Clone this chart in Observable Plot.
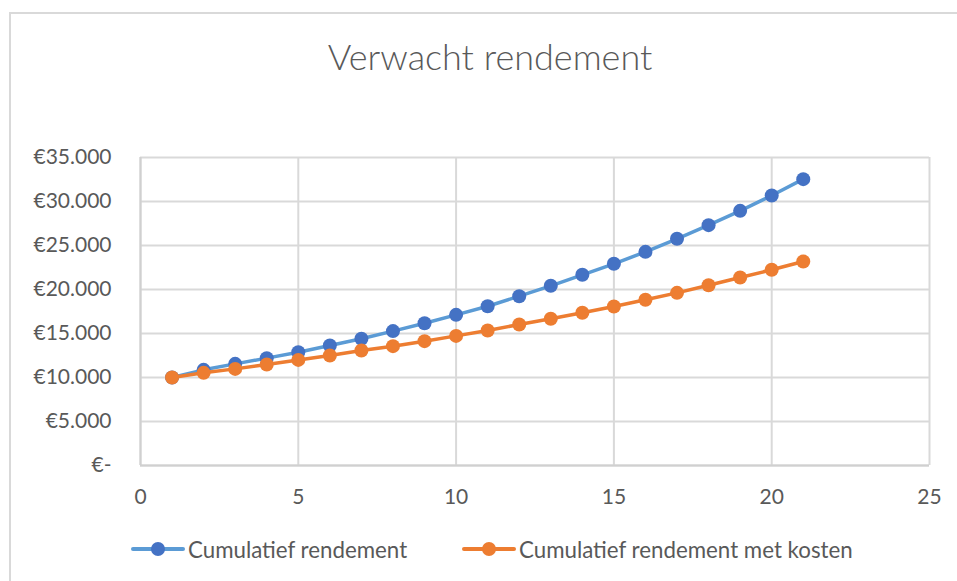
<!DOCTYPE html>
<html>
<head>
<meta charset="utf-8">
<script src="https://cdn.jsdelivr.net/npm/d3@7"></script>
<script src="https://cdn.jsdelivr.net/npm/@observablehq/plot@0.6"></script>
<style>
  html, body { margin: 0; padding: 0; background: #fff; }
  #wrap { position: relative; width: 957px; height: 581px; overflow: hidden; font-family: Lato, "Open Sans", sans-serif; color: #595959; }
  #border { position: absolute; left: 9px; top: 12px; width: 1000px; height: 1000px; border: 2px solid #d9d9d9; box-sizing: border-box; }
  #title { position: absolute; left: 0; width: 980px; top: 34px; text-align: center; font-size: 36px; font-weight: 300; color: #595959; white-space: nowrap; }
  #chart { position: absolute; left: 0; top: 0; }
  #legend { position: absolute; top: 536px; left: 0; width: 957px; height: 26px; font-size: 22.3px; color: #595959; }
  .item { position: absolute; top: 0; display: flex; align-items: center; height: 26px; white-space: nowrap; }
  .sw { position: relative; width: 54px; height: 26px; margin-right: 3px; }
  .sw .ln { position: absolute; left: 0; right: 0; top: 11px; height: 4px; border-radius: 2px; }
  .sw .dt { position: absolute; left: 20px; top: 6px; width: 14px; height: 14px; border-radius: 50%; }
</style>
</head>
<body>
<div id="wrap">
  <div id="border"></div>
  <div id="title">Verwacht rendement</div>
  <div id="chart"></div>
  <div id="legend"></div>
</div>
<script>
const years = [1,2,3,4,5,6,7,8,9,10,11,12,13,14,15,16,17,18,19,20,21];
const cumulatief = [10000,10870,11550,12200,12880,13640,14400,15270,16170,17120,18100,19240,20420,21670,22920,24280,25760,27310,28940,30680,32540];
const metKosten = [10000,10530,10980,11480,12000,12500,13070,13560,14130,14730,15340,16020,16670,17350,18070,18830,19620,20490,21360,22240,23180];
const seriesNames = ["Cumulatief rendement", "Cumulatief rendement met kosten"];
const lineColors = ["#5B9BD5", "#ED7D31"];
const dotColors = ["#4472C4", "#ED7D31"];
const xTicks = [0,5,10,15,20,25];
const yTicks = [0,5000,10000,15000,20000,25000,30000,35000];

const dataA = years.map((x,i)=>({x, y: cumulatief[i]}));
const dataB = years.map((x,i)=>({x, y: metKosten[i]}));

const fmtY = v => v === 0 ? "€-" : "€" + d3.format(",")(v).replace(/,/g, ".");

const chart = Plot.plot({
  width: 957,
  height: 520,
  marginLeft: 140,
  marginRight: 28,
  marginTop: 157,
  marginBottom: 55,
  style: { fontFamily: "Lato, 'Open Sans', sans-serif", fontSize: "21px", color: "#595959", background: "transparent", overflow: "visible" },
  x: { domain: [0, 25], ticks: xTicks, label: null },
  y: { domain: [0, 35000], ticks: yTicks, label: null },
  marks: [
    Plot.gridX(xTicks, { stroke: "#d9d9d9", strokeOpacity: 1, strokeWidth: 2 }),
    Plot.gridY(yTicks, { stroke: "#d9d9d9", strokeOpacity: 1, strokeWidth: 2 }),
    Plot.ruleY([0], { stroke: "#d0d0d0", strokeWidth: 2 }),
    Plot.ruleX([0], { stroke: "#d0d0d0", strokeWidth: 2 }),
    Plot.axisX({ ticks: xTicks, tickSize: 0, tickPadding: 24, fill: "#595959", fontSize: 21, label: null }),
    Plot.axisY({ ticks: yTicks, tickSize: 0, tickPadding: 29, tickFormat: fmtY, fill: "#595959", fontSize: 21, label: null }),
    Plot.line(dataA, { x: "x", y: "y", stroke: lineColors[0], strokeWidth: 3.5 }),
    Plot.dot(dataA, { x: "x", y: "y", r: 7, fill: dotColors[0] }),
    Plot.line(dataB, { x: "x", y: "y", stroke: lineColors[1], strokeWidth: 3.5 }),
    Plot.dot(dataB, { x: "x", y: "y", r: 7, fill: dotColors[1] })
  ]
});
document.getElementById("chart").appendChild(chart);

const legend = document.getElementById("legend");
const legendLeft = [131, 462];
seriesNames.forEach((name, i) => {
  const item = document.createElement("div");
  item.className = "item";
  item.style.left = legendLeft[i] + "px";
  item.innerHTML = `<div class="sw"><div class="ln" style="background:${lineColors[i]}"></div><div class="dt" style="background:${dotColors[i]}"></div></div><span>${name}</span>`;
  legend.appendChild(item);
});
</script>
</body>
</html>
